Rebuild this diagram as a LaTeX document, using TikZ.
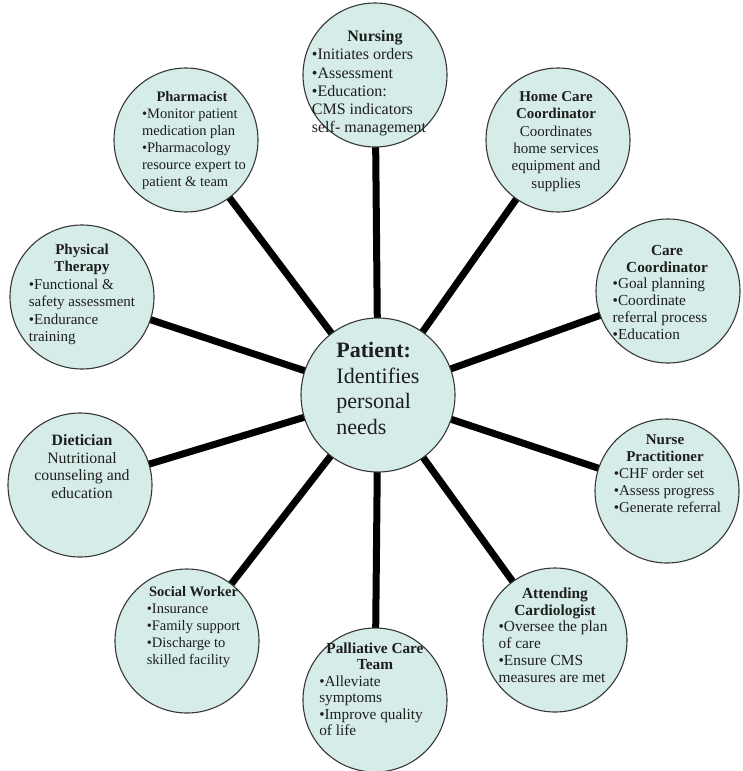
\documentclass[tikz,border=0pt]{standalone}
\usepackage{fontspec}
\setmainfont{Liberation Serif}
\usetikzlibrary{backgrounds}
\definecolor{fillc}{RGB}{214,236,232}
\definecolor{txt}{RGB}{30,30,30}
\definecolor{edge}{RGB}{55,55,55}
\newcommand{\hd}[2]{\multicolumn{1}{@{}c@{}}{\makebox[0pt]{\hspace*{#1}\textbf{#2}}}}
\begin{document}
\begin{tikzpicture}[x=1pt,y=-1pt,
  member/.style={circle, draw=edge, line width=1.1pt, fill=fillc, minimum size=144pt, inner sep=0pt},
  hub/.style={member, minimum size=154pt},
  link/.style={line width=7pt, black},
  lbl/.style 2 args={font=\fontsize{#1}{#2}\selectfont, text=txt, inner sep=0pt, align=center},
  bigl/.style={font=\fontsize{22}{25.5}\selectfont, text=txt, inner sep=0pt}]
\useasboundingbox (0,0) rectangle (743,771);

\node[hub] (pat) at (378,395) {};
\node[member] (nurs) at (375,75) {};
\node[member] (home) at (558,140) {};
\node[member] (carec) at (668,291) {};
\node[member] (np) at (667,491) {};
\node[member] (card) at (555,640) {};
\node[member] (pall) at (375,700) {};
\node[member] (sw) at (187,641) {};
\node[member] (diet) at (80,485) {};
\node[member] (pt) at (82,297) {};
\node[member] (pharm) at (186,140) {};

\begin{pgfonlayer}{background}
  \foreach \t in {nurs,home,carec,np,card,pall,sw,diet,pt,pharm}
    \draw[link] (pat.center) -- (\t.center);
\end{pgfonlayer}

\node[bigl] (patt) at (378,391) {\begin{tabular}{@{}l@{}}\textbf{Patient:}\\Identifies\\personal\\needs\end{tabular}};

\node[lbl={16}{18.3}] (nurst) at (369,83.5) {\begin{tabular}{@{}l@{}}\hd{12pt}{Nursing}\\•Initiates orders\\•Assessment\\•Education:\\CMS indicators\\self- management\end{tabular}};

\node[lbl={15}{17.4}] (homet) at (556,141.5) {\textbf{Home Care}\\\textbf{Coordinator}\\Coordinates\\home services\\equipment and\\supplies};

\node[lbl={15.3}{16.8}] (carect) at (660,294) {\begin{tabular}{@{}l@{}}\hd{14pt}{Care}\\\hd{14pt}{Coordinator}\\•Goal planning\\•Coordinate\\referral process\\•Education\end{tabular}};

\node[lbl={15}{17}] (npt) at (667.5,475) {\begin{tabular}{@{}l@{}}\hd{-5pt}{Nurse}\\\hd{-5pt}{Practitioner}\\•CHF order set\\•Assess progress\\•Generate referral\end{tabular}};

\node[lbl={15.4}{16.8}] (cardt) at (553,637) {\begin{tabular}{@{}l@{}}\hd{4pt}{Attending}\\\hd{4pt}{Cardiologist}\\•Oversee the plan\\of care\\•Ensure CMS\\measures are met\end{tabular}};

\node[lbl={15.3}{16.5}] (pallt) at (371,691) {\begin{tabular}{@{}l@{}}\hd{8pt}{Palliative Care}\\\hd{8pt}{Team}\\•Alleviate\\symptoms\\•Improve quality\\of life\end{tabular}};

\node[lbl={14.5}{17}] (swt) at (193.5,627) {\begin{tabular}{@{}l@{}}\hd{0pt}{Social Worker}\\•Insurance\\•Family support\\•Discharge to\\skilled facility\end{tabular}};

\node[lbl={15.8}{17.7}] (dietT) at (82,466.5) {\textbf{Dietician}\\Nutritional\\counseling and\\education};

\node[lbl={15}{17.4}] (ptt) at (82,294.5) {\begin{tabular}{@{}l@{}}\hd{0pt}{Physical}\\\hd{0pt}{Therapy}\\•Functional \&\\safety assessment\\•Endurance\\training\end{tabular}};

\node[lbl={14.5}{17}] (pharmt) at (194,140.5) {\begin{tabular}{@{}l@{}}\hd{-4pt}{Pharmacist}\\•Monitor patient\\medication plan\\•Pharmacology\\resource expert to\\patient \& team\end{tabular}};
\end{tikzpicture}
\end{document}
